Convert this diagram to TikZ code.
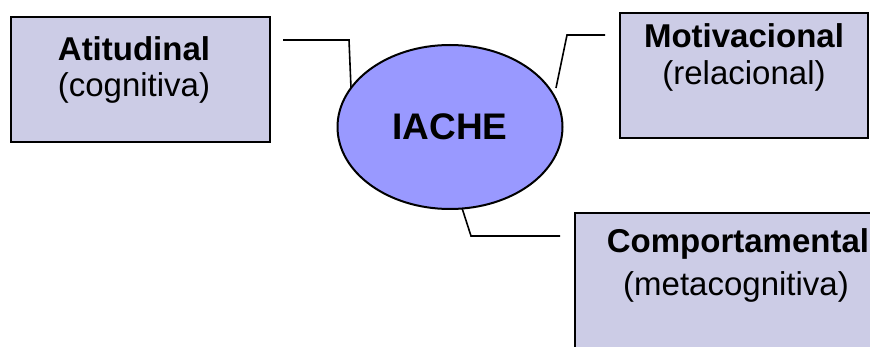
\documentclass[tikz,border=0pt]{standalone}
\usepackage{fontspec}
\setmainfont{Liberation Sans}
\usetikzlibrary{shapes.geometric}
\definecolor{boxfill}{RGB}{204,204,230}
\definecolor{ellfill}{RGB}{153,153,255}
\tikzset{
  catbox/.style={draw=black, line width=2pt, fill=boxfill, anchor=north west, inner sep=0pt},
  hub/.style={draw=black, line width=2pt, fill=ellfill, ellipse, inner sep=0pt,
              minimum width=225pt, minimum height=164pt,
              font=\fontsize{37}{42}\selectfont\bfseries},
  titletxt/.style={anchor=base, inner sep=0pt, font=\fontsize{33}{38}\selectfont\bfseries},
  subtxt/.style={anchor=base, inner sep=0pt, font=\fontsize{33}{38}\selectfont},
  link/.style={draw=black, line width=1.6pt}
}
\begin{document}
\begin{tikzpicture}[x=1pt,y=-1pt]
\useasboundingbox (0,0) rectangle (870,347);
\clip (0,0) rectangle (870,347);
% boxes
\node[catbox, minimum width=259pt, minimum height=125pt] (ati) at (10,16) {};
\node[catbox, minimum width=248pt, minimum height=125pt] (mot) at (619,12) {};
\node[catbox, minimum width=310pt, minimum height=160pt] (com) at (574,212) {};
% hub
\node[hub] (iache) at (450,127) {IACHE};
% texts
\node[titletxt] (atiT) at (134,61) {Atitudinal};
\node[subtxt] (atiS) at (134,97) {(cognitiva)};
\node[titletxt] (motT) at (744,48) {Motivacional};
\node[subtxt] (motS) at (744,85) {(relacional)};
\node[titletxt] (comT) at (738,253) {Comportamental};
\node[subtxt] (comS) at (736,295) {(metacognitiva)};
% connector points
\coordinate (l1) at (283,40);
\coordinate (l2) at (349,40);
\coordinate (l3) at (351,88);
\coordinate (r1) at (605,35);
\coordinate (r2) at (567,35);
\coordinate (r3) at (556,88);
\coordinate (b1) at (560,236);
\coordinate (b2) at (471,236);
\coordinate (b3) at (462,208);
\draw[link] (l1) -- (l2) -- (l3);
\draw[link] (r1) -- (r2) -- (r3);
\draw[link] (b1) -- (b2) -- (b3);
\end{tikzpicture}
\end{document}
